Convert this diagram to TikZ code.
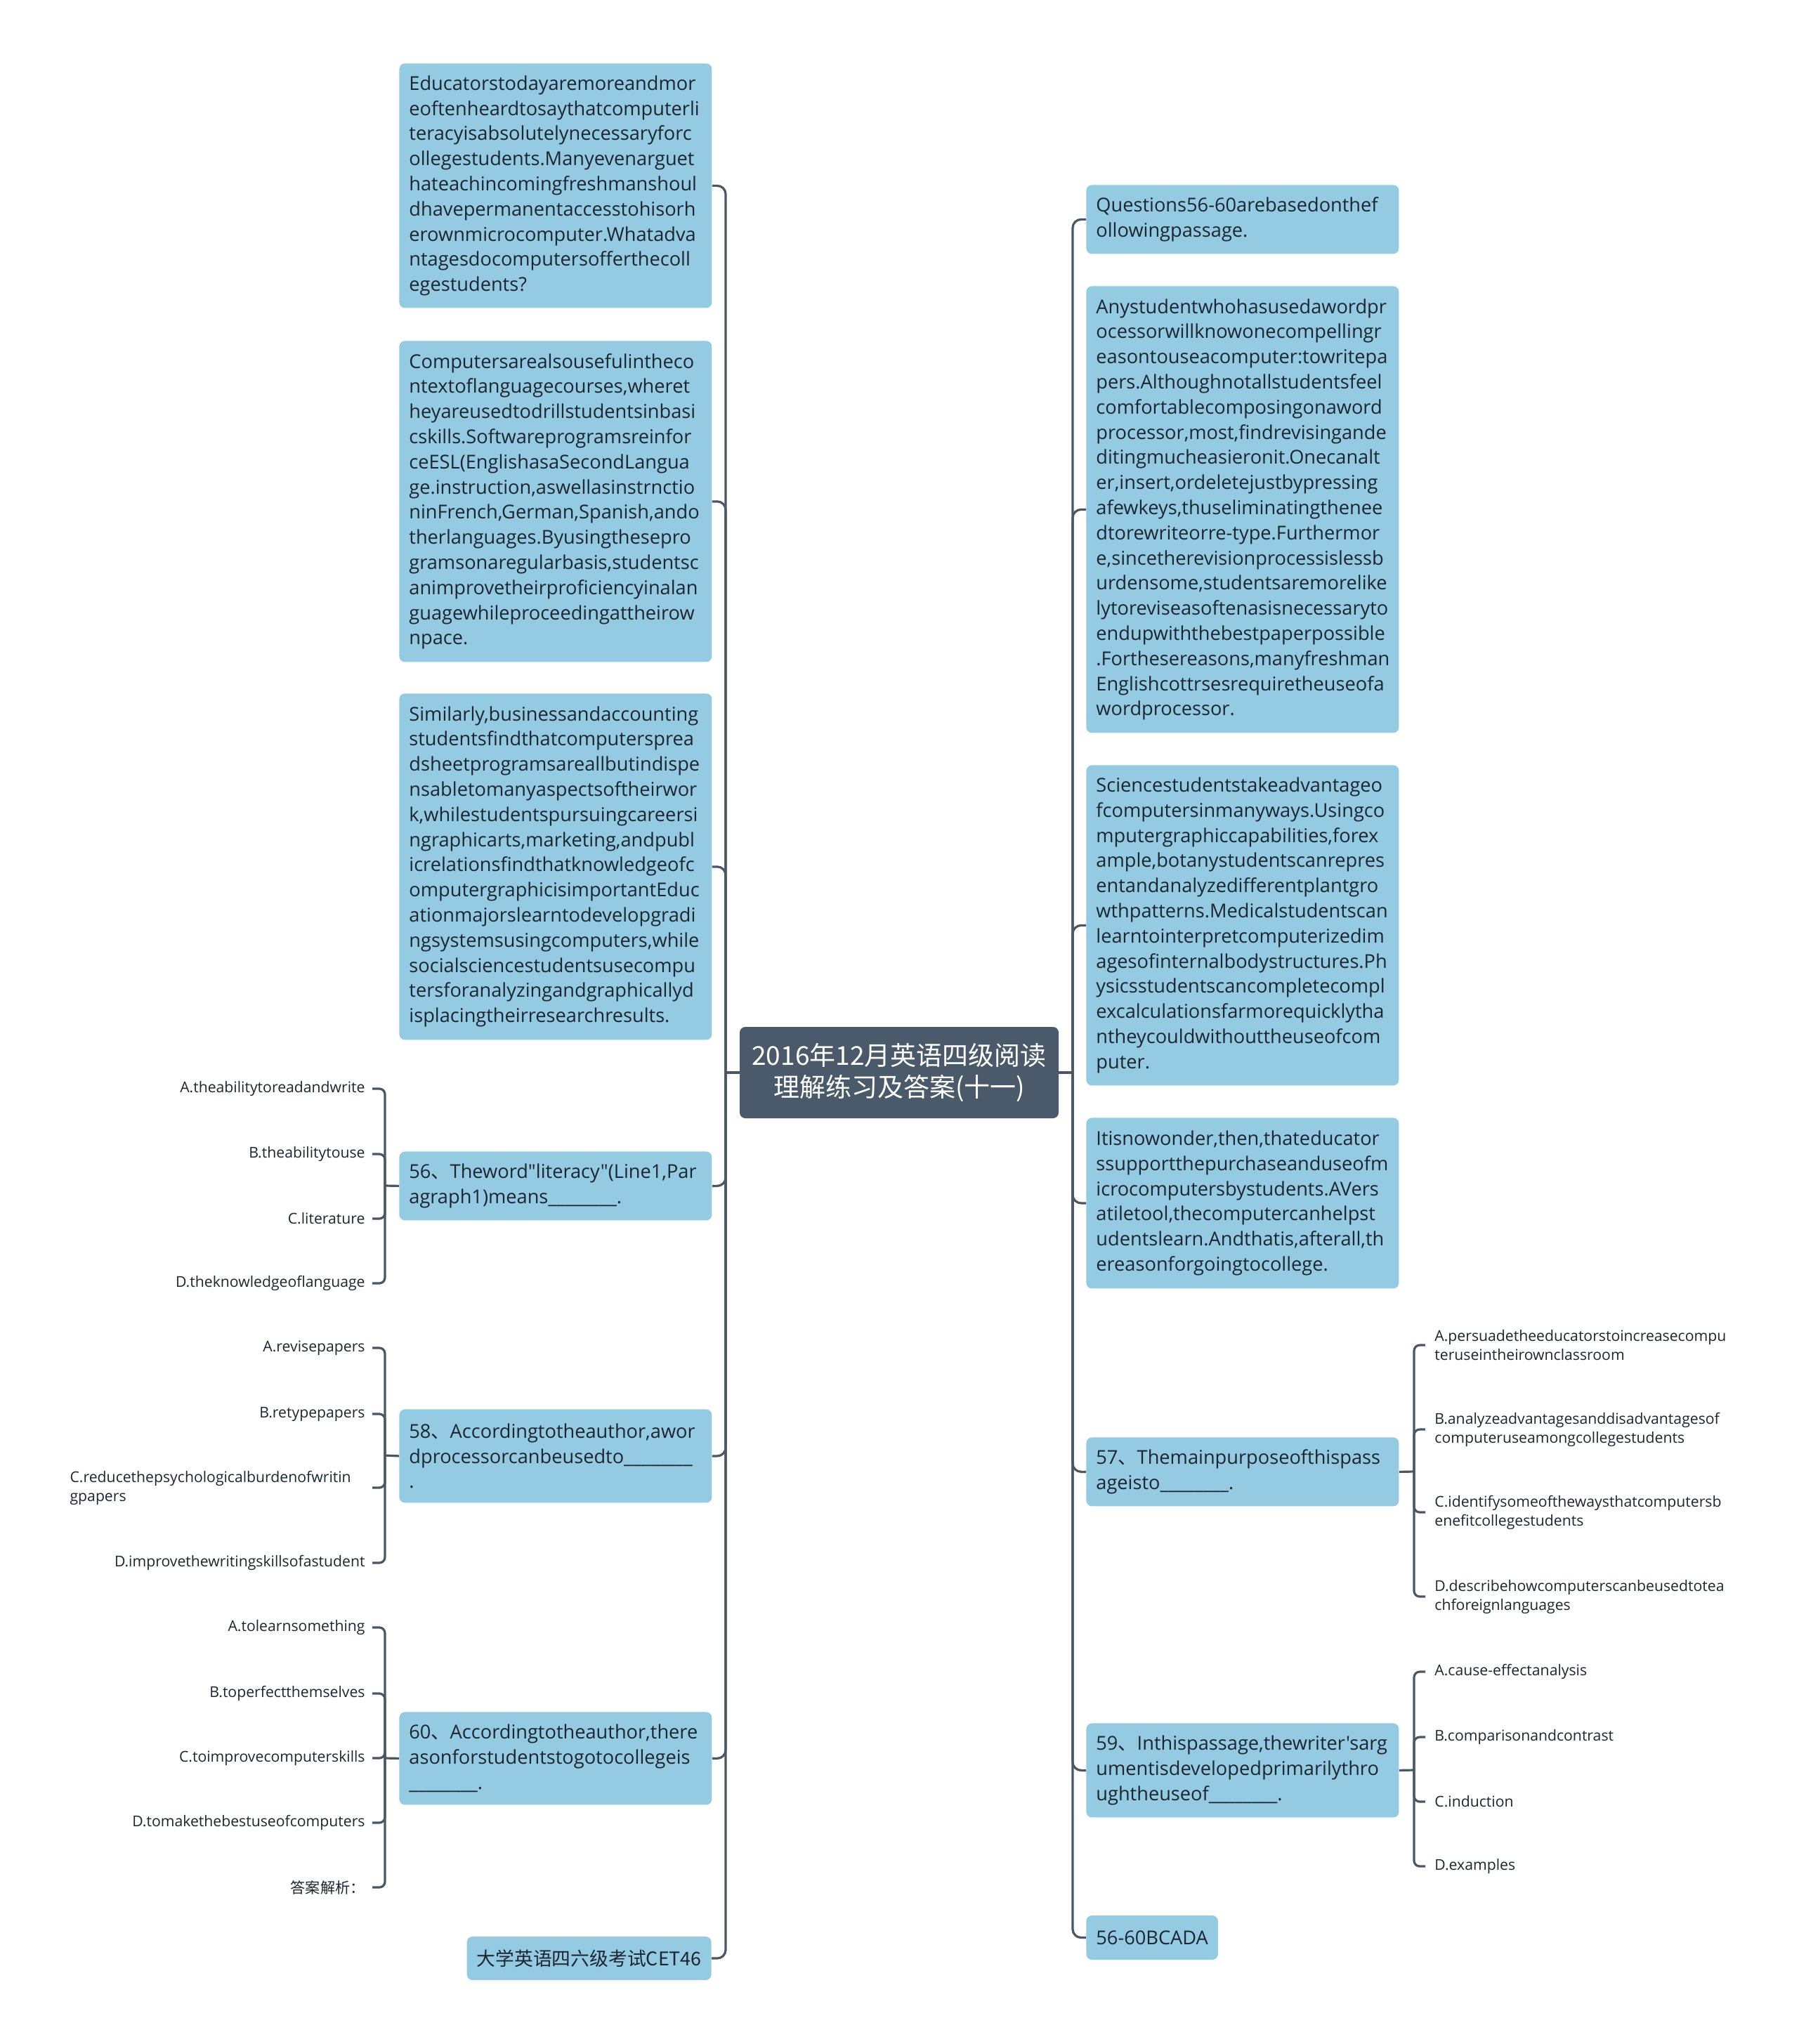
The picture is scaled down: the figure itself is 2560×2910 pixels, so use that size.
\documentclass[tikz,border=0pt]{standalone}
\usepackage{fontspec}
\newfontfamily\lat{Open Sans}
\newfontfamily\cjk{Noto Sans CJK SC}
\hyphenpenalty=10000
\exhyphenpenalty=10000
\definecolor{boxblue}{RGB}{148,203,227}
\definecolor{rootfill}{RGB}{74,90,107}
\definecolor{linec}{RGB}{74,88,102}
\definecolor{txt}{RGB}{28,38,48}
\tikzset{
  box/.style={fill=boxblue, rounded corners=4pt, inner xsep=7pt, inner ysep=0pt,
    align=left, anchor=north west, text=txt, text width=208.5pt, minimum width=222.5pt,
    font=\lat\fontsize{13.6}{17.9}\selectfont},
  smallbox/.style={fill=boxblue, rounded corners=4pt, inner xsep=7pt, inner ysep=0pt,
    text=txt, font=\cjk\fontsize{13.4}{18}\selectfont},
  rootbox/.style={fill=rootfill, rounded corners=4pt, align=center, text=white,
    minimum width=227pt, minimum height=65pt, font=\cjk\fontsize{18.5}{22.5}\selectfont},
  optl/.style={anchor=east, inner xsep=5pt, inner ysep=1pt, text=txt, align=right,
    font=\lat\fontsize{10.6}{13.5}\selectfont},
  optr/.style={anchor=west, inner xsep=6.5pt, inner ysep=1pt, text=txt, align=left,
    font=\lat\fontsize{10.6}{13.5}\selectfont},
  link/.style={draw=linec, line width=1.6pt, rounded corners=6pt},
  sublink/.style={draw=linec, line width=1.6pt, rounded corners=4pt},
}
\newcommand{\blank}{\_\_\_\_\_\_\_\_}
\begin{document}
\begin{tikzpicture}[x=0.5pt,y=-0.5pt]
\useasboundingbox (0,0) rectangle (2560,2910);

% root
\node[rootbox] (root) at (1280,1527) {2016年12月英语四级阅读\\理解练习及答案(十一)};

% left column
\node[box, minimum height=174pt] (e) at (568,90) {Educatorstodayaremoreandmor\\eoftenheardtosaythatcomputerli\\teracyisabsolutelynecessaryforc\\ollegestudents.Manyevenarguet\\hateachincomingfreshmanshoul\\dhavepermanentaccesstohisorh\\erownmicrocomputer.Whatadva\\ntagesdocomputersofferthecoll\\egestudents?};
\node[box, minimum height=228.5pt] (c) at (568,485) {Computersarealsousefulintheco\\ntextoflanguagecourses,wheret\\heyareusedtodrillstudentsinbasi\\cskills.Softwareprogramsreinfor\\ceESL(EnglishasaSecondLangua\\ge.instruction,aswellasinstrnctio\\ninFrench,German,Spanish,ando\\therlanguages.Byusingthesepro\\gramsonaregularbasis,studentsc\\animprovetheirproficiencyinalan\\guagewhileproceedingattheirow\\npace.};
\node[box, minimum height=246.5pt] (s) at (568,987) {Similarly,businessandaccounting\\studentsfindthatcomputersprea\\dsheetprogramsareallbutindispe\\nsabletomanyaspectsoftheirwor\\k,whilestudentspursuingcareersi\\ngraphicarts,marketing,andpubl\\icrelationsfindthatknowledgeofc\\omputergraphicisimportantEduc\\ationmajorslearntodevelopgradi\\ngsystemsusingcomputers,while\\socialsciencestudentsusecompu\\tersforanalyzingandgraphicallyd\\isplacingtheirresearchresults.};
\node[box, minimum height=49pt] (q56) at (568,1639) {56{\cjk 、}Theword"literacy"(Line1,Par\\agraph1)means\blank.};
\node[box, minimum height=66.5pt] (q58) at (568,2006) {58{\cjk 、}Accordingtotheauthor,awor\\dprocessorcanbeusedto\blank\\.};
\node[box, minimum height=66pt] (q60) at (568,2437) {60{\cjk 、}Accordingtotheauthor,there\\asonforstudentstogotocollegeis\\\blank.};
\node[smallbox, anchor=east, minimum height=31pt] (cet) at (1013,2788) {大学英语四六级考试CET46};

% right column
\node[box, minimum height=49pt] (q) at (1546,263) {Questions56-60arebasedonthef\\ollowingpassage.};
\node[box, minimum height=318pt] (any) at (1546,407) {Anystudentwhohasusedawordpr\\ocessorwillknowonecompellingr\\easontouseacomputer:towritepa\\pers.Althoughnotallstudentsfeel\\comfortablecomposingonaword\\processor,most,findrevisingande\\ditingmucheasieronit.Onecanalt\\er,insert,ordeletejustbypressing\\afewkeys,thuseliminatingthenee\\dtorewriteorre-type.Furthermor\\e,sincetherevisionprocessislessb\\urdensome,studentsaremorelike\\lytoreviseasoftenasisnecessaryto\\endupwiththebestpaperpossible\\.Forthesereasons,manyfreshman\\Englishcottrsesrequiretheuseofa\\wordprocessor.};
\node[box, minimum height=228pt] (sci) at (1546,1089) {Sciencestudentstakeadvantageo\\fcomputersinmanyways.Usingco\\mputergraphiccapabilities,forex\\ample,botanystudentscanrepres\\entandanalyzedifferentplantgro\\wthpatterns.Medicalstudentscan\\learntointerpretcomputerizedim\\agesofinternalbodystructures.Ph\\ysicsstudentscancompletecompl\\excalculationsfarmorequicklytha\\ntheycouldwithouttheuseofcom\\puter.};
\node[box, minimum height=121.5pt] (it) at (1546,1591) {Itisnowonder,then,thateducator\\ssupportthepurchaseanduseofm\\icrocomputersbystudents.AVers\\atiletool,thecomputercanhelpst\\udentslearn.Andthatis,afterall,th\\ereasonforgoingtocollege.};
\node[box, minimum height=49pt] (q57) at (1546,2046) {57{\cjk 、}Themainpurposeofthispass\\ageisto\blank.};
\node[box, minimum height=67pt] (q59) at (1546,2453) {59{\cjk 、}Inthispassage,thewriter'sarg\\umentisdevelopedprimarilythro\\ughtheuseof\blank.};
\node[smallbox, anchor=west, minimum height=31.5pt, font=\lat\fontsize{13.6}{18}\selectfont] (ans) at (1546,2758.5) {56-60BCADA};

% main connectors
\coordinate (LJ) at (1033,1527);
\coordinate (RJ) at (1527,1527);
\draw[link] (root.west) -- (LJ);
\draw[link] (root.east) -- (RJ);
\foreach \n in {e,c,s,q56,q58,q60,cet} \draw[link] (LJ) |- (\n.east);
\foreach \n in {q,any,sci,it,q57,q59,ans} \draw[link] (RJ) |- (\n.west);

% options of 56
\node[optl] (o56a) at (530,1550) {A.theabilitytoreadandwrite};
\node[optl] (o56b) at (530,1643) {B.theabilitytouse};
\node[optl] (o56c) at (530,1735) {C.literature};
\node[optl] (o56d) at (530,1827) {D.theknowledgeoflanguage};
\coordinate (j56) at (548,1688);
\draw[link] (q56.west) -- (j56);
\foreach \n in {o56a,o56b,o56c,o56d} \draw[sublink] (j56) |- (\n.east);

% options of 58
\node[optl] (o58a) at (530,1919) {A.revisepapers};
\node[optl] (o58b) at (530,2013) {B.retypepapers};
\node[optl, align=left, text width=210pt] (o58c) at (530,2118) {C.reducethepsychologicalburdenofwritin\\gpapers};
\node[optl] (o58d) at (530,2225) {D.improvethewritingskillsofastudent};
\coordinate (j58) at (548,2072);
\draw[link] (q58.west) -- (j58);
\foreach \n in {o58a,o58b,o58c,o58d} \draw[sublink] (j58) |- (\n.east);

% options of 60
\node[optl] (o60a) at (530,2317) {A.tolearnsomething};
\node[optl] (o60b) at (530,2411) {B.toperfectthemselves};
\node[optl] (o60c) at (530,2503) {C.toimprovecomputerskills};
\node[optl] (o60d) at (530,2595) {D.tomakethebestuseofcomputers};
\node[optl, font=\cjk\fontsize{10.6}{13.5}\selectfont] (o60e) at (530,2687) {答案解析：};
\coordinate (j60) at (548,2503);
\draw[link] (q60.west) -- (j60);
\foreach \n in {o60a,o60b,o60c,o60d,o60e} \draw[sublink] (j60) |- (\n.east);

% options of 57
\node[optr] (o57a) at (2029,1915) {A.persuadetheeducatorstoincreasecompu\\teruseintheirownclassroom};
\node[optr] (o57b) at (2029,2035) {B.analyzeadvantagesanddisadvantagesof\\computeruseamongcollegestudents};
\node[optr] (o57c) at (2029,2153) {C.identifysomeofthewaysthatcomputersb\\enefitcollegestudents};
\node[optr] (o57d) at (2029,2273) {D.describehowcomputerscanbeusedtotea\\chforeignlanguages};
\coordinate (j57) at (2013,2095);
\draw[link] (q57.east) -- (j57);
\foreach \n in {o57a,o57b,o57c,o57d} \draw[sublink] (j57) |- (\n.west);

% options of 59
\node[optr] (o59a) at (2029,2380) {A.cause-effectanalysis};
\node[optr] (o59b) at (2029,2473) {B.comparisonandcontrast};
\node[optr] (o59c) at (2029,2565) {C.induction};
\node[optr] (o59d) at (2029,2657) {D.examples};
\coordinate (j59) at (2013,2520);
\draw[link] (q59.east) -- (j59);
\foreach \n in {o59a,o59b,o59c,o59d} \draw[sublink] (j59) |- (\n.west);
\end{tikzpicture}
\end{document}
